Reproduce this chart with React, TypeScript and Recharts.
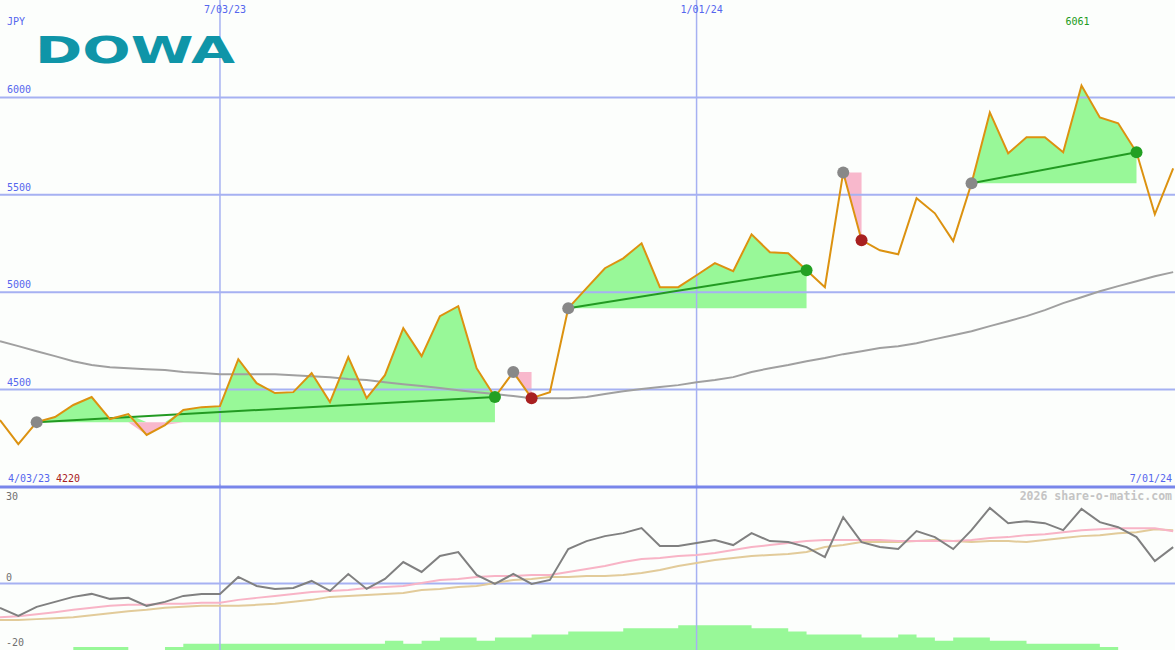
import React from 'react';
import { ComposedChart, Line, Area, XAxis, YAxis, ReferenceLine } from 'recharts';

// ---- data (weekly, index 0 = first week shown) ----
const price = [4344, 4220, 4333, 4359, 4421, 4462, 4349, 4374, 4267, 4318,
  4395, 4410, 4415, 4656, 4533, 4482, 4487, 4585, 4436, 4667,
  4456, 4574, 4815, 4672, 4877, 4928, 4610, 4462, 4590, 4456,
  4487, 4918, 5021, 5123, 5174, 5251, 5026, 5026, 5087, 5149,
  5108, 5297, 5205, 5200, 5113, 5026, 5615, 5267, 5215, 5195,
  5482, 5405, 5262, 5559, 5923, 5713, 5795, 5795, 5718, 6061,
  5897, 5867, 5718, 5400, 5636];

const movingAvg = [4749, 4723, 4697, 4672, 4646, 4626, 4615, 4610, 4605, 4600,
  4590, 4585, 4579, 4579, 4579, 4579, 4574, 4569, 4564, 4554,
  4549, 4538, 4528, 4518, 4508, 4497, 4487, 4477, 4467, 4456,
  4456, 4456, 4462, 4477, 4492, 4503, 4513, 4523, 4538, 4549,
  4564, 4590, 4610, 4626, 4646, 4662, 4682, 4697, 4713, 4723,
  4738, 4759, 4779, 4800, 4826, 4851, 4877, 4908, 4944, 4974,
  5005, 5031, 5056, 5082, 5103];

const oscGray = [-7.3, -9.7, -7.0, -5.5, -4.0, -3.1, -4.6, -4.3, -6.7, -5.5,
  -3.7, -3.1, -3.1, 2.0, -0.7, -1.6, -1.3, 0.8, -2.2, 2.9,
  -1.6, 1.4, 6.5, 3.5, 8.3, 9.5, 2.6, -0.1, 2.9, -0.1,
  1.1, 10.4, 12.8, 14.3, 15.2, 16.7, 11.3, 11.3, 12.2, 13.1,
  11.6, 15.2, 12.8, 12.5, 11.0, 8.0, 20.0, 12.5, 11.0, 10.4,
  15.8, 14.0, 10.4, 16.1, 22.8, 18.2, 18.8, 18.2, 16.1, 22.5,
  18.5, 17.0, 14.0, 6.8, 11.0];

const oscPink = [-10.1, -9.8, -9.2, -8.6, -7.9, -7.3, -6.7, -6.4, -6.4, -6.1,
  -6.1, -5.8, -5.8, -4.9, -4.3, -3.7, -3.1, -2.5, -2.2, -1.9,
  -1.3, -1.0, -0.7, 0.2, 1.1, 1.4, 2.0, 2.3, 2.3, 2.6,
  2.6, 3.5, 4.4, 5.3, 6.5, 7.4, 7.7, 8.3, 8.6, 9.2,
  10.1, 11.0, 11.6, 12.2, 12.8, 13.1, 13.1, 13.1, 13.1, 12.8,
  12.8, 12.8, 12.8, 13.1, 13.7, 14.0, 14.6, 14.9, 15.5, 16.1,
  16.4, 16.7, 16.7, 16.7, 15.8];

const oscTan = [-11.0, -11.0, -10.7, -10.4, -10.1, -9.5, -8.9, -8.3, -7.9, -7.3,
  -7.0, -6.7, -6.7, -6.7, -6.4, -6.1, -5.5, -4.9, -4.0, -3.7,
  -3.4, -3.1, -2.8, -1.9, -1.6, -1.0, -0.7, 0.2, 1.1, 1.4,
  2.0, 2.0, 2.3, 2.3, 2.6, 3.2, 4.1, 5.3, 6.2, 7.1,
  7.7, 8.3, 8.6, 8.9, 9.5, 11.0, 11.6, 12.5, 12.5, 12.5,
  12.8, 13.1, 12.8, 12.5, 12.8, 12.8, 12.5, 13.1, 13.7, 14.3,
  14.6, 15.2, 15.5, 16.4, 16.1];

const histogram = [0, 0, 0, 0, 1, 1, 1, 0, 0, 1,
  2, 2, 2, 2, 2, 2, 2, 2, 2, 2,
  2, 3, 2, 3, 4, 4, 3, 4, 4, 5,
  5, 6, 6, 6, 7, 7, 7, 8, 8, 8,
  8, 7, 7, 6, 5, 5, 5, 4, 4, 5,
  4, 3, 4, 4, 3, 3, 2, 2, 2, 2,
  1, 0, 0, 0, 0];

const swingStart = [2, 28, 31, 46, 53];
const swingEnd = [27, 29, 44, 47, 62];

const xTickIdx = [12, 38];
const xTickLabels = ['7/03/23', '1/01/24'];
const priceTicks = [4500, 5000, 5500, 6000];
const oscTicks = [-20, 0, 30];
const startLabel = '4/03/23';
const endLabel = '7/01/24';

// ---- derived rows ----
const maxVal = Math.max(...price);
const minVal = Math.min(...price);
const maxIdx = price.indexOf(maxVal);

const rows: any[] = price.map((p, i) => ({
  i,
  price: p,
  ma: movingAvg[i],
  og: oscGray[i],
  op: oscPink[i],
  ot: oscTan[i],
  hist: histogram[i],
}));

swingStart.forEach((s, k) => {
  const e = swingEnd[k];
  const base = price[s];
  const up = price[e] >= base;
  for (let i = s; i <= e; i++) {
    const p = price[i];
    rows[i]['g' + k] = [base, Math.max(p, base)];
    rows[i]['p' + k] = [Math.min(p, base), base];
  }
  if (up) {
    rows[s]['t' + k] = price[s];
    rows[e]['t' + k] = price[e];
    rows[e].upEnd = price[e];
  } else {
    rows[e].downEnd = price[e];
  }
  rows[s].startDot = price[s];
});

const FONT = '"DejaVu Sans Mono", monospace';
const BLUE = '#5566ee';
const GRID = '#a6b1f2';
const DOMAIN_X: [number, number] = [0, 64.1];

const PriceTick = (props: any) => {
  const { y, payload } = props;
  return (
    <text x={7} y={y - 4} fill={BLUE} fontSize={10} fontFamily={FONT}>
      {payload.value}
    </text>
  );
};

const DateTick = (props: any) => {
  const { x, payload } = props;
  const k = xTickIdx.indexOf(payload.value);
  return (
    <text x={x - 16} y={13} fill={BLUE} fontSize={10} fontFamily={FONT}>
      {k >= 0 ? xTickLabels[k] : ''}
    </text>
  );
};

const OscTick = (props: any) => {
  const { y, payload } = props;
  const v = payload.value;
  const dy = v === 30 ? 16 : v === 0 ? -3 : -4;
  return (
    <text x={6} y={y + dy} fill="#707070" fontSize={10} fontFamily={FONT}>
      {v}
    </text>
  );
};

const makeDot = (fill: string, key: string) => (p: any) => {
  if (p.value == null || p.cy == null) return <g key={key + p.index} />;
  return <circle key={key + p.index} cx={p.cx} cy={p.cy} r={6} fill={fill} stroke="none" />;
};

export default function App() {
  return (
    <div style={{ position: 'absolute', left: 0, top: 0, width: 1175, height: 650, background: '#fcfefc', overflow: 'hidden' }}>
      {/* lower panel */}
      <div style={{ position: 'absolute', left: 0, top: 484 }}>
        <ComposedChart width={1175} height={166} data={rows} margin={{ top: 0, right: 0, bottom: 0, left: -1 }}>
          <XAxis type="number" dataKey="i" domain={DOMAIN_X} hide allowDataOverflow />
          <YAxis domain={[-20, 30]} ticks={oscTicks} width={1} axisLine={false} tickLine={false} tick={<OscTick />} interval={0} allowDataOverflow />
          <YAxis yAxisId="h" domain={[0, 53.5]} hide allowDataOverflow />
          <ReferenceLine x={xTickIdx[0]} stroke={GRID} strokeWidth={1.5} />
          <ReferenceLine x={xTickIdx[1]} stroke={GRID} strokeWidth={1.5} />
          <ReferenceLine y={0} stroke={GRID} strokeWidth={2} />
          <Area yAxisId="h" type="stepAfter" dataKey="hist" fill="#98f898" fillOpacity={1} stroke="none" isAnimationActive={false} activeDot={false} />
          <Line type="linear" dataKey="ot" stroke="#e2cb9a" strokeWidth={2} dot={false} activeDot={false} isAnimationActive={false} />
          <Line type="linear" dataKey="op" stroke="#f8b4c6" strokeWidth={2} dot={false} activeDot={false} isAnimationActive={false} />
          <Line type="linear" dataKey="og" stroke="#808080" strokeWidth={2} dot={false} activeDot={false} isAnimationActive={false} />
        </ComposedChart>
      </div>

      {/* main price panel */}
      <div style={{ position: 'absolute', left: 0, top: 0 }}>
        <ComposedChart width={1175} height={490} data={rows} margin={{ top: -1, right: 0, bottom: 3, left: -1 }}>
          <XAxis type="number" dataKey="i" domain={DOMAIN_X} orientation="top" height={1} ticks={xTickIdx} interval={0}
            axisLine={false} tickLine={false} tick={<DateTick />} allowDataOverflow />
          <YAxis domain={[4000, 6500]} ticks={priceTicks} width={1} axisLine={false} tickLine={false} tick={<PriceTick />} interval={0} allowDataOverflow />
          {priceTicks.map((t) => (
            <ReferenceLine key={'h' + t} y={t} stroke={GRID} strokeWidth={2} />
          ))}
          <ReferenceLine x={xTickIdx[0]} stroke={GRID} strokeWidth={1.5} />
          <ReferenceLine x={xTickIdx[1]} stroke={GRID} strokeWidth={1.5} />
          <ReferenceLine y={4000} stroke="#7886ea" strokeWidth={3} />
          <ReferenceLine x={maxIdx} stroke="none"
            label={(p: any) => (
              <text x={p.viewBox.x - 16} y={25} fill="#209a20" fontSize={10} fontFamily={FONT}>{maxVal}</text>
            )} />
          {swingStart.map((s, k) => (
            <Area key={'g' + k} type="linear" dataKey={'g' + k} fill="#98f898" fillOpacity={1} stroke="none" isAnimationActive={false} activeDot={false} />
          ))}
          {swingStart.map((s, k) => (
            <Area key={'p' + k} type="linear" dataKey={'p' + k} fill="#f8b8cc" fillOpacity={1} stroke="none" isAnimationActive={false} activeDot={false} />
          ))}
          <Line type="linear" dataKey="ma" stroke="#a0a0a0" strokeWidth={2} dot={false} activeDot={false} isAnimationActive={false} />
          {swingStart.map((s, k) => (
            <Line key={'t' + k} type="linear" dataKey={'t' + k} connectNulls stroke="#229a22" strokeWidth={2} dot={false} activeDot={false} isAnimationActive={false} />
          ))}
          <Line type="linear" dataKey="startDot" stroke="none" dot={makeDot('#888888', 's')} activeDot={false} isAnimationActive={false} />
          <Line type="linear" dataKey="upEnd" stroke="none" dot={makeDot('#22a022', 'u')} activeDot={false} isAnimationActive={false} />
          <Line type="linear" dataKey="downEnd" stroke="none" dot={makeDot('#a82020', 'd')} activeDot={false} isAnimationActive={false} />
          <Line type="linear" dataKey="price" stroke="#dc9210" strokeWidth={2} dot={false} activeDot={false} isAnimationActive={false} />
        </ComposedChart>
      </div>

      {/* text overlay */}
      <svg width={1175} height={650} style={{ position: 'absolute', left: 0, top: 0, pointerEvents: 'none' }}>
        <text x={7} y={25} fill={BLUE} fontSize={10} fontFamily={FONT}>JPY</text>
        <text x={35} y={63} fill="#0f95a8" fontSize={38} fontWeight={900} fontFamily='"DejaVu Sans", sans-serif'
          textLength={200} lengthAdjust="spacingAndGlyphs">DOWA</text>
        <text x={8} y={482} fill={BLUE} fontSize={10} fontFamily={FONT}>{startLabel}</text>
        <text x={56} y={482} fill="#a82020" fontSize={10} fontFamily={FONT}>{minVal}</text>
        <text x={1172} y={482} fill={BLUE} fontSize={10} fontFamily={FONT} textAnchor="end">{endLabel}</text>
        <text x={1172} y={500} fill="#c4c4c4" fontSize={11.5} fontWeight="bold" fontFamily={FONT} textAnchor="end">2026 share-o-matic.com</text>
      </svg>
    </div>
  );
}
